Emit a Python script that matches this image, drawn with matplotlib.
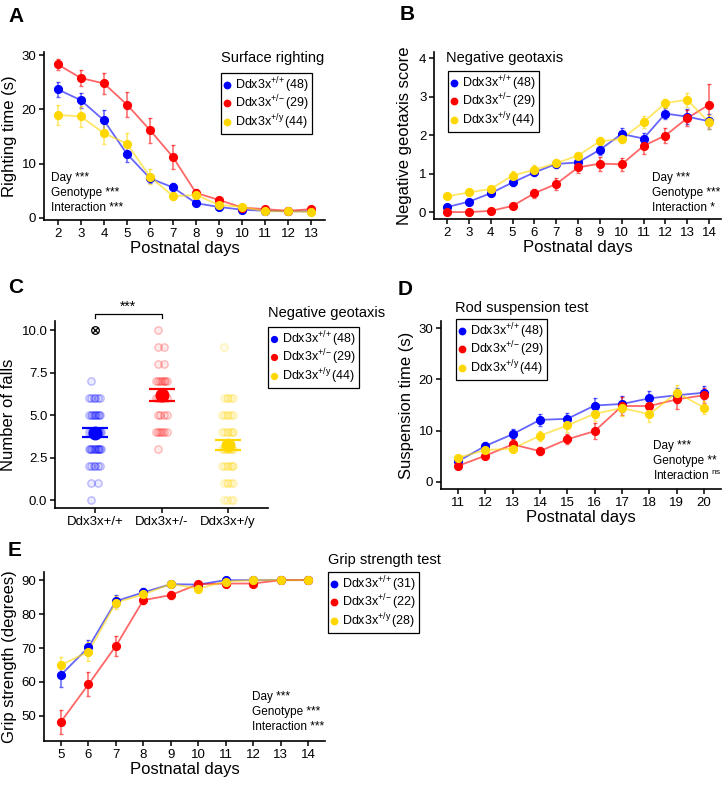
import matplotlib
matplotlib.use('Agg')
import matplotlib.pyplot as plt
from matplotlib.lines import Line2D

plt.rcParams['font.family'] = ['Liberation Sans', 'DejaVu Sans']
plt.rcParams['mathtext.fontset'] = 'custom'
plt.rcParams['mathtext.rm'] = 'Liberation Sans'
plt.rcParams['mathtext.it'] = 'Liberation Sans:italic'
plt.rcParams['mathtext.bf'] = 'Liberation Sans:bold'

W, H = 726, 785
BLUE, RED, GOLD = '#0000FF', '#FF0000', '#FFD700'

# ---- Panel A: surface righting (s) ----
days_a = list(range(2, 14))
a_wt = [23.7, 21.7, 18.0, 11.8, 7.3, 5.6, 2.7, 2.0, 1.5, 1.3, 1.2, 1.2]
a_wt_se = [1.4, 1.4, 1.9, 1.5, 0.8, 0.8, 0.3, 0.3, 0.2, 0.2, 0.2, 0.2]
a_het = [28.3, 25.8, 24.8, 20.9, 16.2, 11.2, 4.6, 3.3, 1.9, 1.6, 1.3, 1.6]
a_het_se = [1.0, 1.4, 1.9, 2.3, 2.3, 2.2, 0.8, 0.6, 0.3, 0.3, 0.2, 0.2]
a_hem = [19.0, 18.7, 15.6, 13.7, 7.6, 4.0, 4.2, 2.4, 2.0, 1.2, 1.2, 1.1]
a_hem_se = [1.8, 1.9, 1.9, 1.9, 1.4, 0.8, 0.5, 0.3, 0.3, 0.2, 0.2, 0.2]

# ---- Panel B: negative geotaxis score ----
days_b = list(range(2, 15))
b_wt = [0.13, 0.27, 0.49, 0.77, 1.03, 1.25, 1.29, 1.62, 2.03, 1.91, 2.56, 2.48, 2.36]
b_wt_se = [0.06, 0.07, 0.08, 0.1, 0.1, 0.1, 0.1, 0.13, 0.15, 0.15, 0.15, 0.2, 0.2]
b_het = [0.0, 0.0, 0.03, 0.16, 0.49, 0.73, 1.16, 1.26, 1.24, 1.72, 1.99, 2.44, 2.79]
b_het_se = [0.0, 0.0, 0.03, 0.08, 0.12, 0.15, 0.15, 0.18, 0.17, 0.2, 0.2, 0.2, 0.55]
b_hem = [0.41, 0.51, 0.6, 0.95, 1.1, 1.27, 1.47, 1.84, 1.9, 2.34, 2.83, 2.92, 2.33]
b_hem_se = [0.08, 0.08, 0.08, 0.13, 0.12, 0.12, 0.1, 0.1, 0.1, 0.15, 0.12, 0.18, 0.18]

# ---- Panel C: number of falls ----
c_groups = ['Ddx3x+/+', 'Ddx3x+/-', 'Ddx3x+/y']
c_levels = [0, 1, 2, 3, 4, 5, 6, 7, 8, 9, 10]
c_wt_counts = [1, 2, 6, 12, 10, 9, 6, 1, 0, 0, 0]
c_het_counts = [0, 0, 0, 1, 6, 4, 6, 7, 2, 2, 1]
c_hem_counts = [4, 5, 7, 9, 7, 6, 5, 0, 0, 1, 0]
c_wt_outlier = [10]
c_means = [3.95, 6.2, 3.25]
c_se = [0.27, 0.35, 0.3]

# ---- Panel D: rod suspension (s) ----
days_d = list(range(11, 21))
d_wt = [4.0, 7.0, 9.3, 12.1, 12.3, 14.9, 15.2, 16.3, 16.9, 17.4]
d_wt_se = [0.5, 0.7, 1.0, 1.2, 1.2, 1.4, 1.5, 1.5, 1.5, 1.3]
d_het = [3.1, 5.1, 7.3, 6.0, 8.3, 9.9, 14.8, 14.8, 16.1, 16.9]
d_het_se = [0.5, 0.7, 1.0, 0.8, 1.0, 1.5, 1.8, 1.2, 1.8, 1.5]
d_hem = [4.7, 6.2, 6.5, 9.0, 11.0, 13.3, 14.4, 13.2, 17.4, 14.5]
d_hem_se = [0.5, 0.6, 0.6, 1.0, 1.2, 1.5, 1.5, 1.5, 1.5, 1.3]

# ---- Panel E: grip strength (degrees) ----
days_e = list(range(5, 15))
e_wt = [62.1, 70.2, 83.8, 86.4, 88.8, 88.7, 90.0, 90.0, 90.0, 90.0]
e_wt_se = [3.5, 2.2, 1.8, 1.2, 0.6, 0.5, 0.2, 0.0, 0.0, 0.0]
e_het = [48.3, 59.3, 70.6, 84.1, 85.6, 88.8, 89.0, 89.0, 90.0, 90.0]
e_het_se = [3.5, 3.5, 3.0, 1.2, 1.2, 0.6, 0.4, 0.4, 0.0, 0.0]
e_hem = [65.0, 68.9, 83.4, 85.8, 88.9, 87.5, 89.6, 90.0, 90.0, 90.0]
e_hem_se = [2.3, 2.8, 1.8, 1.2, 0.5, 0.6, 0.3, 0.0, 0.0, 0.0]

labels_main = [r'Ddx3x$^{\mathrm{{+}/{+}}}\,$(48)', r'Ddx3x$^{\mathrm{{+}/{-}}}\,$(29)',
               r'Ddx3x$^{\mathrm{{+}/y}}\,$(44)']
labels_grip = [r'Ddx3x$^{\mathrm{{+}/{+}}}\,$(31)', r'Ddx3x$^{\mathrm{{+}/{-}}}\,$(22)',
               r'Ddx3x$^{\mathrm{{+}/y}}\,$(28)']
colors = [BLUE, RED, GOLD]


def rect(l, r, t, b):
    return [l / W, 1 - b / H, (r - l) / W, (b - t) / H]


def fx(x):
    return x / W


def fy(y):
    return 1 - y / H


def style(ax, labelsize=9.5):
    for s in ['top', 'right']:
        ax.spines[s].set_visible(False)
    for s in ['left', 'bottom']:
        ax.spines[s].set_linewidth(1.2)
    ax.tick_params(direction='out', length=3.5, width=1.1, labelsize=labelsize, pad=2)


def draw_series(ax, x, series):
    # lines + error bars underneath, points on top
    for m, se, c in series:
        ax.plot(x, m, color=c, lw=1.3, alpha=0.6, zorder=2)
        ax.errorbar(x, m, yerr=se, fmt='none', ecolor=c, elinewidth=1.1,
                    capsize=1.5, capthick=1, alpha=0.6, zorder=2)
    for m, se, c in series:
        ax.plot(x, m, 'o', color=c, ms=5.6, zorder=3)


def add_legend(ax, labels, x, y, ms=4.6):
    handles = [Line2D([], [], marker='o', ls='none', color=c, ms=ms) for c in colors]
    leg = ax.legend(handles, labels, loc='upper left', bbox_to_anchor=(fx(x), fy(y)),
                    bbox_transform=fig.transFigure, fancybox=False, framealpha=1,
                    edgecolor='black', fontsize=9, borderpad=0.2, labelspacing=-0.1,
                    handlelength=0.6, handletextpad=0.35, borderaxespad=0)
    leg.get_frame().set_linewidth(0.9)


def stats(lines, x, y, dy=15):
    for i, t in enumerate(lines):
        fig.text(fx(x), fy(y + i * dy), t, fontsize=8.5, va='center', ha='left')


fig = plt.figure(figsize=(W / 100, H / 100), dpi=100)

# ---------- A ----------
axA = fig.add_axes(rect(44, 325, 52, 220))
draw_series(axA, days_a, [(a_wt, a_wt_se, BLUE), (a_het, a_het_se, RED), (a_hem, a_hem_se, GOLD)])
axA.set_xlim(1.4, 13.6)
axA.set_ylim(-0.4, 30.6)
axA.set_xticks(days_a)
axA.set_yticks([0, 10, 20, 30])
style(axA)
axA.set_xlabel('Postnatal days', fontsize=12, labelpad=1)
axA.set_ylabel('Righting time (s)', fontsize=12, labelpad=3)
fig.text(fx(221), fy(58), 'Surface righting', fontsize=10.5, va='center')
add_legend(axA, labels_main, 221, 73)
stats(['Day ***', 'Genotype ***', 'Interaction ***'], 51, 178)
fig.text(fx(8), fy(16), 'A', fontsize=15, fontweight='bold', va='center')

# ---------- B ----------
axB = fig.add_axes(rect(434, 721, 52, 219))
draw_series(axB, days_b, [(b_wt, b_wt_se, BLUE), (b_het, b_het_se, RED), (b_hem, b_hem_se, GOLD)])
axB.set_xlim(1.4, 14.55)
axB.set_ylim(-0.18, 4.16)
axB.set_xticks(days_b)
axB.set_yticks([0, 1, 2, 3, 4])
style(axB)
axB.set_xlabel('Postnatal days', fontsize=12, labelpad=1)
axB.set_ylabel('Negative geotaxis score', fontsize=12, labelpad=5)
fig.text(fx(446), fy(58), 'Negative geotaxis', fontsize=10.5, va='center')
add_legend(axB, labels_main, 448, 71)
stats(['Day ***', 'Genotype ***', 'Interaction *'], 652, 178)
fig.text(fx(400), fy(14), 'B', fontsize=15, fontweight='bold', va='center')

# ---------- C ----------
axC = fig.add_axes(rect(55, 268, 321, 508))
offsets = [-0.06, 0.04, -0.02, 0.08, 0.0, -0.09, 0.06, -0.04, 0.02, 0.09, -0.07, 0.05]
for gi, (counts, c) in enumerate(zip([c_wt_counts, c_het_counts, c_hem_counts], colors)):
    xs, ys = [], []
    for v, n in zip(c_levels, counts):
        for k in range(n):
            xs.append(gi + 1 + offsets[k % len(offsets)])
            ys.append(v)
    axC.scatter(xs, ys, s=28, facecolors=matplotlib.colors.to_rgba(c, 0.08),
                edgecolors=matplotlib.colors.to_rgba(c, 0.25), linewidths=1, zorder=2)
for gi, c in enumerate(colors):
    axC.errorbar([gi + 1], [c_means[gi]], yerr=[c_se[gi]], fmt='o', color=c, ms=9,
                 capsize=9.5, capthick=1.6, elinewidth=1.6, zorder=3)
axC.plot([1] * len(c_wt_outlier), c_wt_outlier, 'o', mfc='none', mec='black', ms=5.5, mew=0.9, zorder=4)
axC.plot([1] * len(c_wt_outlier), c_wt_outlier, 'x', color='black', ms=4, mew=0.9, zorder=4)
axC.plot([1, 1, 2, 2], [10.7, 10.94, 10.94, 10.7], color='black', lw=0.9, clip_on=False)
axC.text(1.5, 10.98, '***', ha='center', va='bottom', fontsize=10)
axC.set_xlim(0.4, 3.6)
axC.set_ylim(-0.47, 10.53)
axC.set_xticks([1, 2, 3])
axC.set_xticklabels(c_groups)
axC.set_yticks([0, 2.5, 5.0, 7.5, 10.0])
axC.set_yticklabels(['0.0', '2.5', '5.0', '7.5', '10.0'])
style(axC)
axC.set_ylabel('Number of falls', fontsize=12, labelpad=4)
fig.text(fx(268), fy(313), 'Negative geotaxis', fontsize=10.5, va='center')
add_legend(axC, labels_main, 268, 327, ms=4.2)
fig.text(fx(8), fy(288), 'C', fontsize=15, fontweight='bold', va='center')

# ---------- D ----------
axD = fig.add_axes(rect(441, 721, 321, 489))
draw_series(axD, days_d, [(d_wt, d_wt_se, BLUE), (d_het, d_het_se, RED), (d_hem, d_hem_se, GOLD)])
axD.set_xlim(10.38, 20.62)
axD.set_ylim(-1.4, 31.4)
axD.set_xticks(days_d)
axD.set_yticks([0, 10, 20, 30])
style(axD)
axD.set_xlabel('Postnatal days', fontsize=12, labelpad=1)
axD.set_ylabel('Suspension time (s)', fontsize=12, labelpad=3)
fig.text(fx(455), fy(308), 'Rod suspension test', fontsize=10.5, va='center')
add_legend(axD, labels_main, 456, 319)
stats(['Day ***', 'Genotype **', r'Interaction $^{\mathrm{ns}}$'], 653, 446)
fig.text(fx(398), fy(290), 'D', fontsize=15, fontweight='bold', va='center')

# ---------- E ----------
axE = fig.add_axes(rect(44, 325, 572, 741))
draw_series(axE, days_e, [(e_wt, e_wt_se, BLUE), (e_het, e_het_se, RED), (e_hem, e_hem_se, GOLD)])
axE.set_xlim(4.38, 14.62)
axE.set_ylim(42.6, 92.4)
axE.set_xticks(days_e)
axE.set_yticks([50, 60, 70, 80, 90])
style(axE)
axE.set_xlabel('Postnatal days', fontsize=12, labelpad=1)
axE.set_ylabel('Grip strength (degrees)', fontsize=12, labelpad=3)
fig.text(fx(328), fy(560), 'Grip strength test', fontsize=10.5, va='center')
add_legend(axE, labels_grip, 328, 572)
stats(['Day ***', 'Genotype ***', 'Interaction ***'], 252, 697)
fig.text(fx(8), fy(550), 'E', fontsize=15, fontweight='bold', va='center')

fig.savefig('out.png', dpi=100)
